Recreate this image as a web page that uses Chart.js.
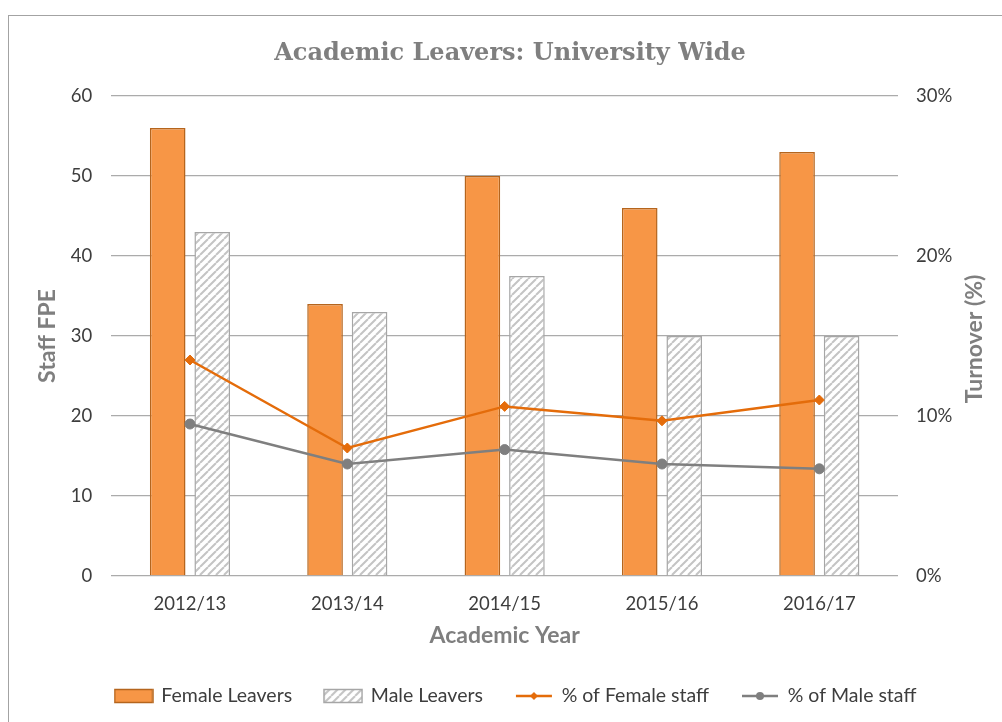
<!DOCTYPE html>
<html>
<head>
<meta charset="utf-8">
<script src="https://cdn.jsdelivr.net/npm/chart.js@4.4.1/dist/chart.umd.min.js"></script>
<style>
  html, body { margin: 0; padding: 0; background: #fff; overflow: hidden; width: 1002px; height: 722px; }
  #frame { position: absolute; left: 8px; top: 15px; width: 1010px; height: 720px;
           border-left: 1.5px solid #a3a3a3; border-top: 1.5px solid #a3a3a3; }
  #c { position: absolute; left: 8px; top: 15px; }
</style>
</head>
<body>
<div id="frame"></div>
<canvas id="c" width="1004" height="707"></canvas>
<script>
// Academic leavers by year (staff FPE) and turnover rates (%)
const years = ['2012/13', '2013/14', '2014/15', '2015/16', '2016/17'];
const femaleLeavers = [56, 34, 50, 46, 53];
const maleLeavers = [43, 33, 37.5, 30, 30];
const femaleTurnover = [13.5, 8.0, 10.6, 9.7, 11.0];
const maleTurnover = [9.5, 7.0, 7.9, 7.0, 6.7];
const seriesNames = ['Female Leavers', 'Male Leavers', '% of Female staff', '% of Male staff'];

const SANS = 'Lato, Calibri, Carlito, sans-serif';
const ORANGE_FILL = '#F79646';
const ORANGE_EDGE = '#B5651D';
const ORANGE_LINE = '#E46C0A';
const GREY_LINE = '#7F7F7F';
const HATCH_EDGE = '#A6A6A6';
const GRID = '#ABABAB';
const TICK_TEXT = '#3d3d3d';
const TITLE_TEXT = '#7F7F7F';
const AXIS_TITLE_FONT = { family: SANS, size: 23, weight: 'bold', lineHeight: 1.2 };

// diagonal "/" hatching used for the male bars
function hatchPattern(ctx) {
  const size = 8;
  const t = document.createElement('canvas');
  t.width = size; t.height = size;
  const g = t.getContext('2d');
  g.fillStyle = '#fff';
  g.fillRect(0, 0, size, size);
  g.strokeStyle = '#C4C4C4';
  g.lineWidth = 2;
  g.beginPath();
  for (const k of [-1, 0, 1]) {
    g.moveTo(k * size, size);
    g.lineTo(k * size + size, 0);
  }
  g.stroke();
  return ctx.createPattern(t, 'repeat');
}

const ctx = document.getElementById('c').getContext('2d');
const hatch = hatchPattern(ctx);

// legend swatches drawn like the chart marks
function swatch(kind) {
  const c = document.createElement('canvas');
  c.width = 40; c.height = 16;
  const g = c.getContext('2d');
  if (kind === 0) {
    g.fillStyle = ORANGE_FILL; g.fillRect(1, 1.5, 38, 13);
    g.strokeStyle = ORANGE_EDGE; g.lineWidth = 1.5; g.strokeRect(1, 1.5, 38, 13);
  } else if (kind === 1) {
    g.fillStyle = hatchPattern(g); g.fillRect(1, 1.5, 38, 13);
    g.strokeStyle = HATCH_EDGE; g.lineWidth = 1.5; g.strokeRect(1, 1.5, 38, 13);
  } else {
    const col = kind === 2 ? ORANGE_LINE : GREY_LINE;
    g.strokeStyle = col; g.lineWidth = 2.5;
    g.beginPath(); g.moveTo(2, 8); g.lineTo(38, 8); g.stroke();
    g.fillStyle = col;
    g.beginPath();
    if (kind === 2) {
      g.moveTo(20, 4); g.lineTo(24, 8); g.lineTo(20, 12); g.lineTo(16, 8); g.closePath();
    } else {
      g.arc(20, 8, 4, 0, Math.PI * 2);
    }
    g.fill();
  }
  return c;
}
const swatches = [0, 1, 2, 3].map(swatch);

// right-hand axis title, reading bottom to top
const turnoverTitle = {
  id: 'turnoverTitle',
  afterDraw(chart) {
    const s = chart.scales.y1;
    const a = chart.chartArea;
    const c = chart.ctx;
    c.save();
    c.translate(s.right - 37, (a.top + a.bottom) / 2 + 3);
    c.rotate(-Math.PI / 2);
    c.font = 'bold 23px ' + SANS;
    c.fillStyle = TITLE_TEXT;
    c.textAlign = 'center';
    c.textBaseline = 'middle';
    c.fillText('Turnover (%)', 0, 0);
    c.restore();
  }
};

// the legend row sits a little right of the canvas centre
const legendNudge = {
  id: 'legendNudge',
  afterLayout(chart) {
    if (chart.legend) {
      chart.legend.left += 6;
      chart.legend.right += 6;
    }
  }
};

new Chart(ctx, {
  type: 'bar',
  data: {
    labels: years,
    datasets: [
      { type: 'line', label: seriesNames[2], data: femaleTurnover, yAxisID: 'y1', order: 0,
        borderColor: ORANGE_LINE, backgroundColor: ORANGE_LINE, borderWidth: 2.5,
        pointStyle: 'rectRot', pointRadius: 5, pointBackgroundColor: ORANGE_LINE,
        pointBorderColor: ORANGE_LINE, pointBorderWidth: 1, tension: 0 },
      { type: 'line', label: seriesNames[3], data: maleTurnover, yAxisID: 'y1', order: 0,
        borderColor: GREY_LINE, backgroundColor: GREY_LINE, borderWidth: 2.5,
        pointStyle: 'circle', pointRadius: 5, pointBackgroundColor: GREY_LINE,
        pointBorderColor: GREY_LINE, pointBorderWidth: 1, tension: 0 },
      { label: seriesNames[0], data: femaleLeavers, yAxisID: 'y', order: 1,
        backgroundColor: ORANGE_FILL, borderColor: ORANGE_EDGE, borderWidth: 1.5,
        categoryPercentage: 0.566, barPercentage: 0.8 },
      { label: seriesNames[1], data: maleLeavers, yAxisID: 'y', order: 1,
        backgroundColor: hatch, borderColor: HATCH_EDGE, borderWidth: 1.5,
        categoryPercentage: 0.566, barPercentage: 0.8 }
    ]
  },
  options: {
    responsive: false,
    devicePixelRatio: 1,
    animation: false,
    layout: { padding: { top: 0, bottom: 6.25, left: 0, right: 0 } },
    plugins: {
      tooltip: { enabled: false },
      title: {
        display: true,
        text: 'Academic Leavers: University Wide',
        color: TITLE_TEXT,
        font: { family: '"DejaVu Serif", serif', size: 24, weight: 'bold', lineHeight: 1.2 },
        padding: { top: 24.6, bottom: 27.6 }
      },
      legend: {
        position: 'bottom',
        labels: {
          usePointStyle: true,
          pointStyleWidth: 36,
          padding: 33,
          color: TICK_TEXT,
          font: { family: SANS, size: 19.5 },
          generateLabels(chart) {
            // bars first, then the two turnover lines
            return [2, 3, 0, 1].map((di, k) => ({
              text: chart.data.datasets[di].label,
              pointStyle: swatches[k],
              datasetIndex: di,
              hidden: false,
              fontColor: TICK_TEXT,
              lineWidth: 0
            }));
          }
        }
      }
    },
    scales: {
      x: {
        grid: { display: false, drawTicks: false },
        border: { display: false },
        ticks: { color: TICK_TEXT, font: { family: SANS, size: 18.5 }, padding: 17 },
        title: { display: true, text: 'Academic Year', color: TITLE_TEXT,
                 font: AXIS_TITLE_FONT, padding: { top: 0, bottom: 3.45 } },
        afterFit(s) { s.height = 77.25; }
      },
      y: {
        position: 'left',
        min: 0, max: 60,
        ticks: { stepSize: 10, color: TICK_TEXT, font: { family: SANS, size: 18.5 }, padding: 19 },
        grid: { color: GRID, lineWidth: 1.3, drawTicks: false },
        border: { display: false },
        title: { display: true, text: 'Staff FPE', color: TITLE_TEXT,
                 font: AXIS_TITLE_FONT, padding: { top: 26.2, bottom: 0 } },
        afterFit(s) { s.width = 103.3; }
      },
      y1: {
        position: 'right',
        min: 0, max: 30,
        ticks: { stepSize: 10, color: TICK_TEXT, font: { family: SANS, size: 18.5 }, padding: 18,
                 callback: v => v + '%' },
        grid: { display: false, drawTicks: false },
        border: { display: false },
        afterFit(s) { s.width = 114; }
      }
    }
  },
  plugins: [turnoverTitle, legendNudge]
});
</script>
</body>
</html>
